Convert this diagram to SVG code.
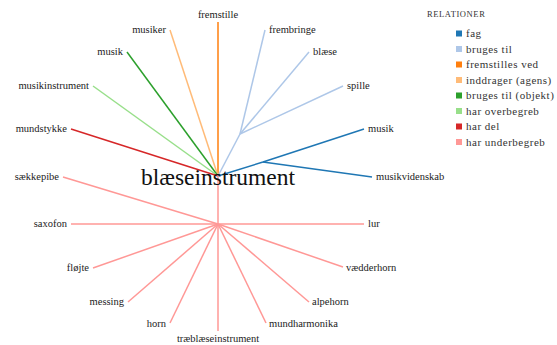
<svg xmlns="http://www.w3.org/2000/svg" width="557" height="345" viewBox="0 0 557 345">
<style>
text{font-family:"Liberation Serif","DejaVu Serif",serif;fill:#222}
.lbl{font-size:10.5px}
.l{text-anchor:end}
.c{text-anchor:middle}
.title{font-size:23.5px;text-anchor:middle;fill:#111}
.leg{font-size:11px;letter-spacing:0.5px;fill:#333}
.legh{font-size:8.5px;letter-spacing:0.6px;fill:#333}
line{fill:none;stroke-width:1.5}
.fag{stroke:#1f77b4}.bt{stroke:#aec7e8}.fv{stroke:#ff7f0e}.ia{stroke:#ffbb78}
.bo{stroke:#2ca02c}.ho{stroke:#98df8a}.hd{stroke:#d62728}.hu{stroke:#ff9896}
</style>
<rect width="557" height="345" fill="#fff"/>
<g id="connectors">
<line class="fv" x1="218" y1="176" x2="218" y2="22"/>
<line class="ia" x1="218" y1="176" x2="170" y2="30"/>
<line class="bo" x1="218" y1="176" x2="127" y2="52"/>
<line class="ho" x1="218" y1="176" x2="93" y2="86"/>
<line class="hd" x1="218" y1="176" x2="71" y2="129"/>
<line class="bt" x1="218" y1="176" x2="240" y2="134"/>
<line class="bt" x1="240" y1="134" x2="265" y2="30"/>
<line class="bt" x1="240" y1="134" x2="309" y2="52"/>
<line class="bt" x1="240" y1="134" x2="343" y2="86"/>
<line class="fag" x1="218" y1="176" x2="263" y2="162"/>
<line class="fag" x1="263" y1="162" x2="364" y2="129"/>
<line class="fag" x1="263" y1="162" x2="372" y2="177"/>
<line class="hu" x1="218" y1="176" x2="218" y2="224"/>
<line class="hu" x1="218" y1="224" x2="63" y2="177"/>
<line class="hu" x1="218" y1="224" x2="71" y2="224"/>
<line class="hu" x1="218" y1="224" x2="93" y2="268"/>
<line class="hu" x1="218" y1="224" x2="128" y2="302"/>
<line class="hu" x1="218" y1="224" x2="170" y2="323"/>
<line class="hu" x1="218" y1="224" x2="218" y2="331"/>
<line class="hu" x1="218" y1="224" x2="266" y2="323"/>
<line class="hu" x1="218" y1="224" x2="309" y2="302"/>
<line class="hu" x1="218" y1="224" x2="343" y2="267"/>
<line class="hu" x1="218" y1="224" x2="364" y2="224"/>
</g>
<g id="center"><text class="title" x="218" y="185">blæseinstrument</text></g>
<g id="n-fremstille"><text class="lbl c" x="218" y="18">fremstille</text></g>
<g id="n-musiker"><text class="lbl l" x="166" y="33">musiker</text></g>
<g id="n-musik1"><text class="lbl l" x="123" y="55">musik</text></g>
<g id="n-musikinstrument"><text class="lbl l" x="89" y="89">musikinstrument</text></g>
<g id="n-mundstykke"><text class="lbl l" x="67" y="132">mundstykke</text></g>
<g id="n-frembringe"><text class="lbl" x="269" y="33">frembringe</text></g>
<g id="n-blaese"><text class="lbl" x="313" y="55">blæse</text></g>
<g id="n-spille"><text class="lbl" x="347" y="89">spille</text></g>
<g id="n-musik2"><text class="lbl" x="368" y="132">musik</text></g>
<g id="n-musikvidenskab"><text class="lbl" x="376" y="180">musikvidenskab</text></g>
<g id="n-saekkepibe"><text class="lbl l" x="59" y="180">sækkepibe</text></g>
<g id="n-saxofon"><text class="lbl l" x="67" y="227">saxofon</text></g>
<g id="n-floejte"><text class="lbl l" x="89" y="271">fløjte</text></g>
<g id="n-messing"><text class="lbl l" x="124" y="305">messing</text></g>
<g id="n-horn"><text class="lbl l" x="166" y="327">horn</text></g>
<g id="n-traeblaese"><text class="lbl c" x="218" y="342">træblæseinstrument</text></g>
<g id="n-mundharmonika"><text class="lbl" x="269" y="327">mundharmonika</text></g>
<g id="n-alpehorn"><text class="lbl" x="312" y="305">alpehorn</text></g>
<g id="n-vaedderhorn"><text class="lbl" x="346" y="271">vædderhorn</text></g>
<g id="n-lur"><text class="lbl" x="368" y="227">lur</text></g>
<g id="legend">
<text class="legh" x="427" y="17">RELATIONER</text>
<rect x="456" y="30.5" width="6" height="6" fill="#1f77b4"/><text class="leg" x="466" y="37">fag</text>
<rect x="456" y="46" width="6" height="6" fill="#aec7e8"/><text class="leg" x="466" y="52.5">bruges til</text>
<rect x="456" y="61.5" width="6" height="6" fill="#ff7f0e"/><text class="leg" x="466" y="68">fremstilles ved</text>
<rect x="456" y="77" width="6" height="6" fill="#ffbb78"/><text class="leg" x="466" y="83.5">inddrager (agens)</text>
<rect x="456" y="92.5" width="6" height="6" fill="#2ca02c"/><text class="leg" x="466" y="99">bruges til (objekt)</text>
<rect x="456" y="108" width="6" height="6" fill="#98df8a"/><text class="leg" x="466" y="114.5">har overbegreb</text>
<rect x="456" y="123.5" width="6" height="6" fill="#d62728"/><text class="leg" x="466" y="130">har del</text>
<rect x="456" y="139" width="6" height="6" fill="#ff9896"/><text class="leg" x="466" y="145.5">har underbegreb</text>
</g>
</svg>
